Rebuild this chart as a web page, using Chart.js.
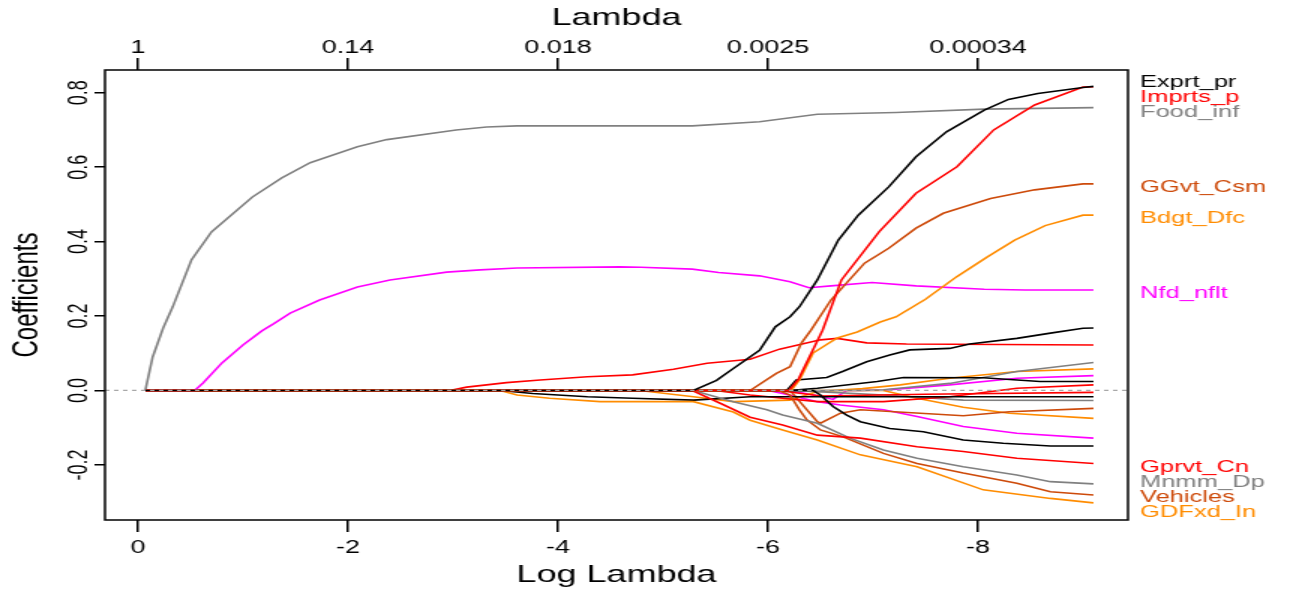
<!DOCTYPE html>
<html>
<head>
<meta charset="utf-8">
<script src="https://cdn.jsdelivr.net/npm/chart.js@4.4.1/dist/chart.umd.min.js"></script>
<style>
html, body { margin: 0; padding: 0; background: #fff; overflow: hidden; }
</style>
</head>
<body>
<!-- drawn at 860 wide and stretched to 1290, like the reference picture -->
<canvas id="coefChart" width="860" height="594" style="display:block;width:1290px;height:594px;"></canvas>
<script>
document.addEventListener("DOMContentLoaded", function () {

// DATA: coefficient paths, [log lambda, coefficient]
const lambdaMaxLog = -0.07;

const exprtPr = [[-5.29,0],[-5.51,0.027],[-5.67,0.059],[-5.92,0.108],[-6.07,0.171],[-6.21,0.198],[-6.30,0.225],[-6.47,0.297],[-6.67,0.404],[-6.86,0.471],[-7.15,0.547],[-7.41,0.628],[-7.70,0.695],[-8.06,0.753],[-8.29,0.782],[-8.57,0.798],[-9.00,0.814],[-9.10,0.817]];
const imprtsP = [[-6.20,0],[-6.29,0.03],[-6.43,0.11],[-6.52,0.162],[-6.70,0.297],[-7.06,0.427],[-7.41,0.530],[-7.80,0.601],[-8.15,0.700],[-8.54,0.767],[-9.00,0.815],[-9.10,0.816]];
const foodInf = [[-0.14,0.090],[-0.24,0.168],[-0.33,0.224],[-0.51,0.351],[-0.70,0.426],[-1.09,0.520],[-1.37,0.571],[-1.64,0.612],[-2.09,0.655],[-2.37,0.674],[-3.03,0.700],[-3.32,0.708],[-3.61,0.711],[-5.28,0.711],[-5.92,0.722],[-6.47,0.742],[-7.22,0.747],[-8.06,0.756],[-9.10,0.760]];
const ggvtCsm = [[-5.83,0],[-6.08,0.046],[-6.21,0.064],[-6.32,0.128],[-6.41,0.162],[-6.60,0.243],[-6.92,0.342],[-7.15,0.382],[-7.41,0.436],[-7.67,0.476],[-8.12,0.516],[-8.54,0.539],[-9.00,0.555],[-9.10,0.555]];
const bdgtDfc = [[-6.22,0],[-6.30,0.028],[-6.43,0.101],[-6.66,0.141],[-6.85,0.157],[-7.07,0.184],[-7.22,0.198],[-7.50,0.245],[-7.80,0.306],[-8.09,0.359],[-8.35,0.404],[-8.64,0.443],[-9.00,0.471],[-9.10,0.471]];
const nfdNflt = [[-0.54,0],[-0.62,0.020],[-0.80,0.074],[-0.90,0.098],[-1.00,0.122],[-1.18,0.160],[-1.29,0.179],[-1.45,0.208],[-1.73,0.243],[-2.09,0.278],[-2.40,0.297],[-2.94,0.318],[-3.26,0.324],[-3.61,0.329],[-4.59,0.332],[-4.79,0.331],[-5.28,0.326],[-5.53,0.317],[-5.92,0.308],[-6.21,0.292],[-6.39,0.276],[-6.60,0.281],[-6.99,0.290],[-7.41,0.281],[-8.06,0.272],[-8.45,0.270],[-9.10,0.270]];
const gprvtCn = [[-5.28,0],[-5.55,-0.035],[-5.83,-0.072],[-6.14,-0.093],[-6.47,-0.120],[-6.88,-0.128],[-7.42,-0.151],[-7.86,-0.164],[-8.37,-0.182],[-9.10,-0.196]];
const mnmmDp = [[-5.29,0],[-5.67,-0.030],[-5.99,-0.052],[-6.14,-0.066],[-6.47,-0.088],[-6.78,-0.128],[-7.10,-0.160],[-7.42,-0.182],[-7.86,-0.205],[-8.37,-0.227],[-8.69,-0.245],[-9.10,-0.251]];
const vehicles = [[-6.10,0],[-6.21,-0.012],[-6.30,-0.052],[-6.37,-0.079],[-6.50,-0.106],[-6.71,-0.124],[-7.10,-0.169],[-7.42,-0.196],[-7.86,-0.222],[-8.37,-0.249],[-8.69,-0.272],[-9.10,-0.281]];
const gdfxdIn = [[-3.45,0],[-3.61,-0.012],[-3.92,-0.021],[-4.40,-0.030],[-5.29,-0.030],[-5.67,-0.058],[-5.83,-0.080],[-6.14,-0.106],[-6.47,-0.133],[-6.88,-0.173],[-7.42,-0.205],[-8.05,-0.267],[-8.69,-0.290],[-9.10,-0.302]];
// unlabelled paths
const blackB = [[-6.18,0],[-6.27,0.028],[-6.56,0.035],[-6.71,0.051],[-6.94,0.077],[-7.16,0.095],[-7.35,0.109],[-7.73,0.113],[-7.92,0.125],[-8.37,0.140],[-8.69,0.154],[-9.00,0.167],[-9.10,0.168]];
const blackC = [[-6.43,0],[-6.50,-0.012],[-6.62,-0.043],[-6.75,-0.066],[-6.88,-0.084],[-7.16,-0.102],[-7.48,-0.111],[-7.86,-0.133],[-8.24,-0.142],[-8.69,-0.149],[-9.10,-0.149]];
const blackD = [[-6.20,0],[-6.47,0.006],[-7.04,0.024],[-7.29,0.035],[-8.05,0.034],[-8.59,0.024],[-9.10,0.024]];
const blackE = [[-3.45,0],[-3.76,-0.008],[-4.28,-0.017],[-4.71,-0.021],[-5.29,-0.026],[-5.83,-0.017],[-9.10,-0.017]];
const redB = [[-2.97,0],[-3.13,0.009],[-3.51,0.021],[-3.83,0.028],[-4.28,0.037],[-4.71,0.042],[-5.10,0.057],[-5.42,0.073],[-5.83,0.084],[-6.11,0.111],[-6.50,0.136],[-6.66,0.140],[-6.94,0.128],[-7.32,0.125],[-9.10,0.122]];
const redC = [[-5.50,0],[-5.83,-0.012],[-6.47,-0.030],[-7.10,-0.030],[-7.73,-0.017],[-8.37,0.006],[-9.10,0.015]];
const redD = [[-6.10,0],[-6.50,-0.015],[-7.50,-0.010],[-9.10,-0.005]];
const grayB = [[-6.90,0],[-7.10,0.002],[-7.73,0.019],[-8.37,0.051],[-9.10,0.075]];
const grayC = [[-6.20,0],[-6.47,-0.003],[-7.10,-0.012],[-7.86,-0.026],[-9.10,-0.027]];
const brownB = [[-6.21,0],[-6.47,-0.084],[-6.50,-0.088],[-6.69,-0.061],[-6.88,-0.052],[-7.86,-0.068],[-8.30,-0.057],[-9.10,-0.048]];
const orangeB = [[-4.78,0],[-5.29,-0.017],[-5.67,-0.030],[-6.21,-0.026],[-6.47,-0.003],[-6.90,0.005],[-7.26,0.015],[-7.73,0.033],[-8.37,0.051],[-9.10,0.058]];
const orangeC = [[-7.10,0],[-7.42,-0.021],[-7.86,-0.045],[-8.30,-0.061],[-9.10,-0.075]];
const magentaB = [[-6.00,0],[-6.14,-0.008],[-6.47,-0.030],[-6.69,-0.039],[-7.10,-0.052],[-7.42,-0.070],[-7.86,-0.097],[-8.37,-0.115],[-9.10,-0.128]];
const magentaC = [[-6.20,0],[-6.45,-0.013],[-6.62,-0.024],[-6.75,0],[-7.10,0.001],[-7.73,0.015],[-8.37,0.033],[-9.10,0.040]];

const seriesValues = [exprtPr, imprtsP, foodInf, ggvtCsm, bdgtDfc, nfdNflt, gprvtCn, mnmmDp, vehicles, gdfxdIn,
  blackB, blackC, blackD, blackE, redB, redC, redD, grayB, grayC, brownB, orangeB, orangeC, magentaB, magentaC];
const seriesNames = ["Exprt_pr", "Imprts_p", "Food_inf", "GGvt_Csm", "Bdgt_Dfc", "Nfd_nflt", "Gprvt_Cn", "Mnmm_Dp", "Vehicles", "GDFxd_In",
  "", "", "", "", "", "", "", "", "", "", "", "", "", ""];

const logLambdaTicks = [0, -2, -4, -6, -8];
const lambdaTickLabels = ["1", "0.14", "0.018", "0.0025", "0.00034"];
const coefTicks = [-0.2, 0, 0.2, 0.4, 0.6, 0.8];

// styles
const BLACK = "#000000", RED = "#ff0000", GRAY = "#808080", BROWN = "#cd4a0a", ORANGE = "#ff8c00", MAGENTA = "#ff00ff";
const seriesColors = [BLACK, RED, GRAY, BROWN, ORANGE, MAGENTA, RED, GRAY, BROWN, ORANGE,
  BLACK, BLACK, BLACK, BLACK, RED, RED, RED, GRAY, GRAY, BROWN, ORANGE, ORANGE, MAGENTA, MAGENTA];
const FONT = "'Liberation Sans', Arial, sans-serif";

const datasets = seriesValues.map(function (pts, i) {
  const data = [{ x: lambdaMaxLog, y: 0 }].concat(pts.map(p => ({ x: p[0], y: p[1] })));
  return {
    label: seriesNames[i] || ("v" + i),
    data: data,
    borderColor: seriesColors[i],
    borderWidth: 1.6,
    pointRadius: 0,
    tension: 0,
    fill: false
  };
});

// zero line, box and right-hand labels
const extras = {
  id: "extras",
  afterDatasetsDraw(chart) {
    const { ctx, chartArea, scales } = chart;
    const y0 = scales.y.getPixelForValue(0);
    ctx.save();
    ctx.strokeStyle = "#a8a8a8";
    ctx.lineWidth = 1.3;
    ctx.setLineDash([3, 3]);
    ctx.beginPath();
    ctx.moveTo(chartArea.left, y0);
    ctx.lineTo(chartArea.right, y0);
    ctx.stroke();
    ctx.restore();
  },
  afterDraw(chart) {
    const { ctx, chartArea, scales } = chart;
    ctx.save();
    ctx.strokeStyle = "#000";
    ctx.lineWidth = 1.5;
    ctx.strokeRect(chartArea.left, chartArea.top, chartArea.right - chartArea.left, chartArea.bottom - chartArea.top);

    const items = [];
    seriesValues.forEach(function (pts, i) {
      if (!seriesNames[i]) return;
      const last = pts[pts.length - 1];
      items.push({ text: seriesNames[i], color: seriesColors[i], y: scales.y.getPixelForValue(last[1]) });
    });
    items.sort((a, b) => a.y - b.y);
    const gap = 15;
    for (let k = 0; k < 200; k++) {
      for (let j = 1; j < items.length; j++) {
        const d = items[j].y - items[j - 1].y;
        if (d < gap) {
          const push = (gap - d) / 2;
          items[j].y += push;
          items[j - 1].y -= push;
        }
      }
    }
    ctx.font = "17px " + FONT;
    ctx.textAlign = "left";
    ctx.textBaseline = "middle";
    items.forEach(function (it) {
      ctx.fillStyle = it.color;
      ctx.fillText(it.text, chartArea.right + 8, it.y + 3.5);
    });
    ctx.restore();
  }
};

const ctx = document.getElementById("coefChart").getContext("2d");

new Chart(ctx, {
  type: "line",
  data: { datasets: datasets },
  options: {
    responsive: false,
    animation: false,
    layout: { padding: { left: 0, right: 108, top: 0, bottom: 0 } },
    plugins: {
      legend: { display: false },
      tooltip: { enabled: false }
    },
    scales: {
      x: {
        type: "linear",
        position: "bottom",
        min: -9.429,
        max: 0.314,
        reverse: true,
        afterBuildTicks: s => { s.ticks = logLambdaTicks.map(v => ({ value: v })); },
        afterFit: s => { s.height = 74; },
        border: { display: false },
        grid: { display: true, drawOnChartArea: false, drawTicks: true, tickLength: 12, color: "#000", lineWidth: 1.5 },
        ticks: { color: "#000", font: { size: 18, family: FONT }, padding: 5, maxRotation: 0, autoSkip: false,
          callback: v => String(v) },
        title: { display: true, text: "Log Lambda", color: "#000", font: { size: 24, family: FONT }, padding: { top: 0, bottom: 4 } }
      },
      x2: {
        type: "linear",
        position: "top",
        min: -9.429,
        max: 0.314,
        reverse: true,
        afterBuildTicks: s => { s.ticks = logLambdaTicks.map(v => ({ value: v })); },
        afterFit: s => { s.height = 70; },
        border: { display: false },
        grid: { display: true, drawOnChartArea: false, drawTicks: true, tickLength: 12, color: "#000", lineWidth: 1.5 },
        ticks: { color: "#000", font: { size: 18, family: FONT }, padding: -1, maxRotation: 0, autoSkip: false,
          callback: (v, i) => lambdaTickLabels[i] },
        title: { display: true, text: "Lambda", color: "#000", font: { size: 24, family: FONT }, padding: { top: 4, bottom: 0 } }
      },
      y: {
        type: "linear",
        position: "left",
        min: -0.348,
        max: 0.861,
        afterBuildTicks: s => { s.ticks = coefTicks.map(v => ({ value: v })); },
        afterFit: s => { s.width = 70; },
        border: { display: false },
        grid: { display: true, drawOnChartArea: false, drawTicks: true, tickLength: 7, color: "#000", lineWidth: 1.5 },
        ticks: { color: "#000", font: { size: 18, family: FONT }, padding: -6, minRotation: 90, maxRotation: 90,
          crossAlign: "center", callback: v => v.toFixed(1) },
        title: { display: true, text: "Coefficients", color: "#000", font: { size: 24, family: FONT }, padding: { top: 4, bottom: 0 } }
      }
    }
  },
  plugins: [extras]
});

});
</script>
</body>
</html>
